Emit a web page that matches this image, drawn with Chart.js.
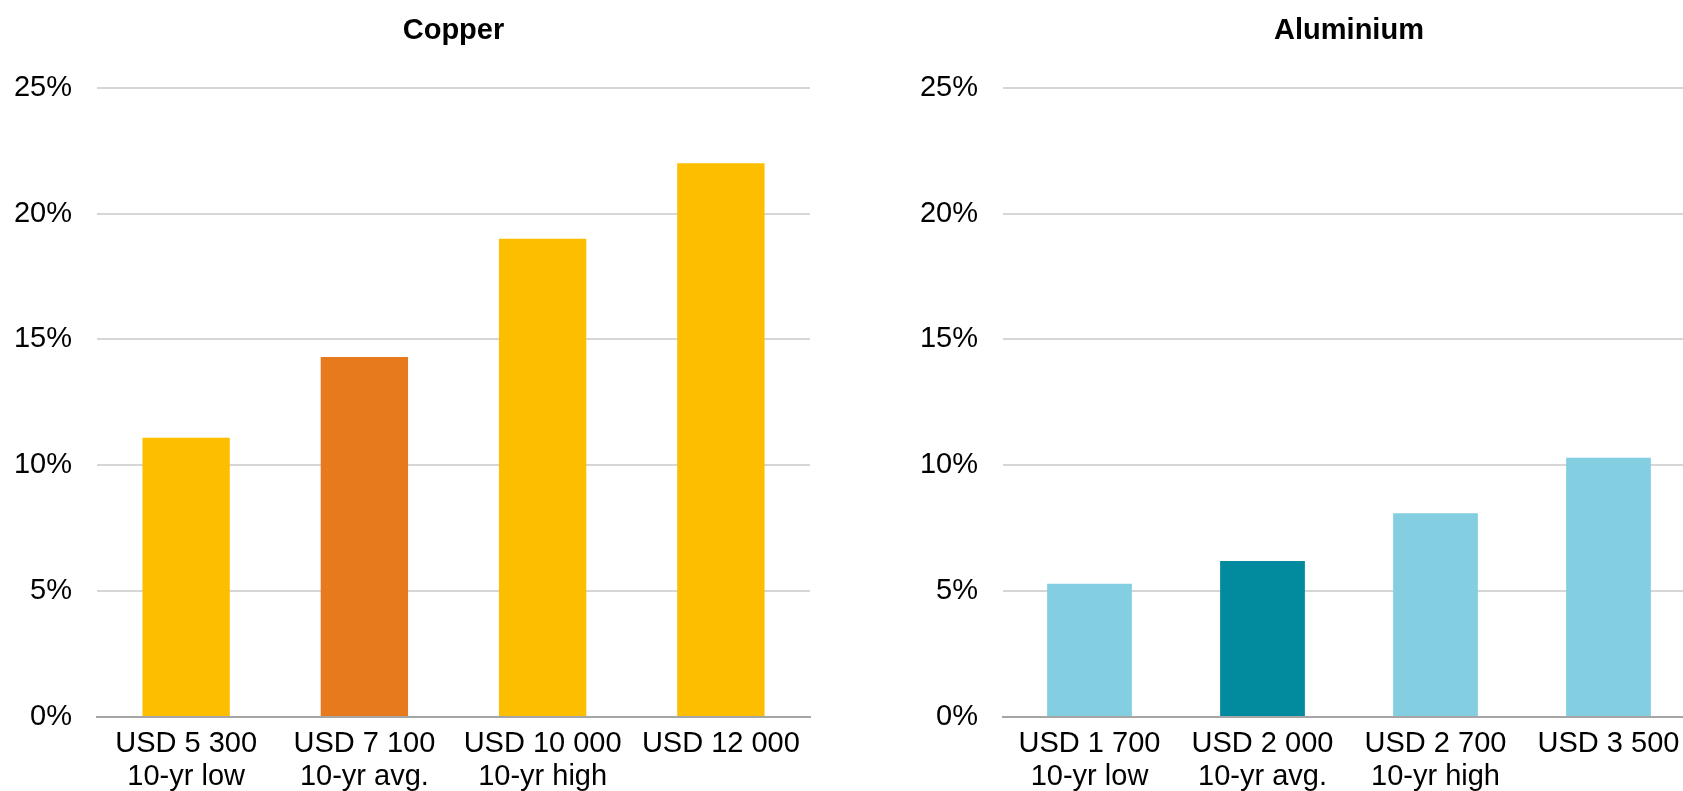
<!DOCTYPE html>
<html>
<head>
<meta charset="utf-8">
<script src="https://cdn.jsdelivr.net/npm/chart.js@4.4.1/dist/chart.umd.min.js"></script>
<style>
  html, body { margin: 0; padding: 0; background: #ffffff; overflow: hidden; width: 1683px; height: 791px; }
  #c1 { position: absolute; left: 0px; top: 0px; }
  #c2 { position: absolute; left: 906px; top: 0px; }
</style>
</head>
<body>
<canvas id="c1" width="842" height="804"></canvas>
<canvas id="c2" width="800" height="804"></canvas>
<script>
// ---- Data ----
const copperTitle = 'Copper';
const copperLabels = [['USD 5 300', '10-yr low'], ['USD 7 100', '10-yr avg.'], ['USD 10 000', '10-yr high'], ['USD 12 000']];
const copperValues = [11.1, 14.3, 19.0, 22.0];

const aluminiumTitle = 'Aluminium';
const aluminiumLabels = [['USD 1 700', '10-yr low'], ['USD 2 000', '10-yr avg.'], ['USD 2 700', '10-yr high'], ['USD 3 500']];
const aluminiumValues = [5.3, 6.2, 8.1, 10.3];

const yMin = 0;
const yMax = 25;
const yStep = 5;

// ---- Styles ----
const copperColors = ['#FDBE00', '#E87A1E', '#FDBE00', '#FDBE00'];
const aluminiumColors = ['#84CEE1', '#028A9F', '#84CEE1', '#84CEE1'];
const FONT = '"Liberation Sans", Arial, Helvetica, sans-serif';

function makeChart(id, title, labels, values, colors, rightPad) {
  return new Chart(document.getElementById(id), {
    type: 'bar',
    data: {
      labels: labels,
      datasets: [{
        data: values,
        backgroundColor: colors,
        borderWidth: 0,
        categoryPercentage: 1.0,
        barPercentage: 0.49
      }]
    },
    options: {
      responsive: false,
      animation: false,
      devicePixelRatio: 1,
      layout: { padding: { top: 0, right: rightPad, bottom: 0, left: 0 } },
      plugins: {
        legend: { display: false },
        tooltip: { enabled: false },
        title: {
          display: true,
          text: title,
          fullSize: false,
          color: '#000000',
          font: { family: FONT, size: 29, weight: 'bold', lineHeight: 1.2 },
          padding: { top: 14, bottom: 39 }
        }
      },
      scales: {
        x: {
          grid: { display: false, drawTicks: false },
          border: { display: true, color: '#A6A6A6', width: 2 },
          ticks: {
            color: '#000000',
            padding: 11,
            maxRotation: 0,
            autoSkip: false,
            font: { family: FONT, size: 29, lineHeight: 1.12 }
          }
        },
        y: {
          min: yMin,
          max: yMax,
          afterFit: function (scale) { scale.width = 97; },
          grid: {
            drawTicks: false,
            color: '#D6D6D6',
            lineWidth: 2
          },
          border: { display: false },
          ticks: {
            stepSize: yStep,
            padding: 25,
            color: '#000000',
            font: { family: FONT, size: 29 },
            callback: function (v) { return v + '%'; }
          }
        }
      }
    }
  });
}

makeChart('c1', copperTitle, copperLabels, copperValues, copperColors, 32);
makeChart('c2', aluminiumTitle, aluminiumLabels, aluminiumValues, aluminiumColors, 11);
</script>
</body>
</html>
